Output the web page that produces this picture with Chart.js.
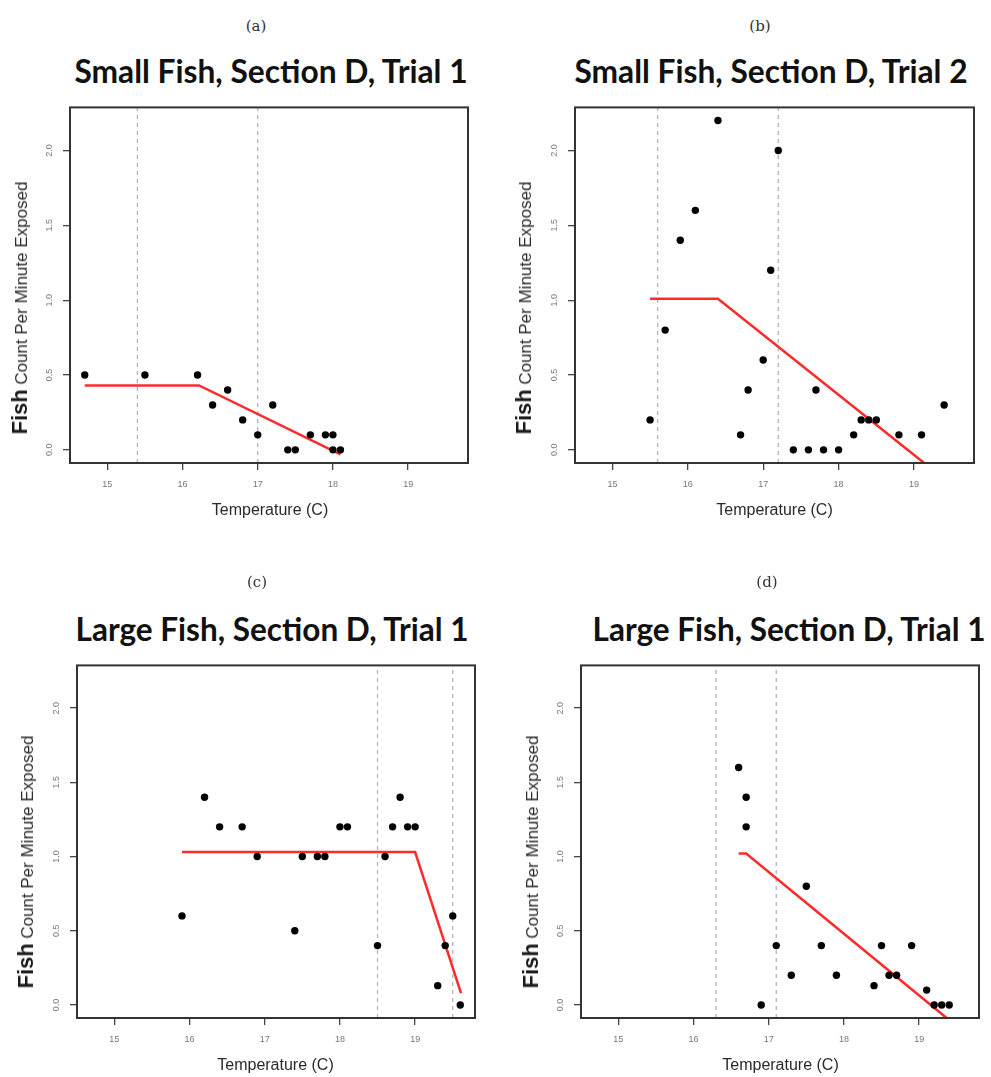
<!DOCTYPE html>
<html>
<head>
<meta charset="utf-8">
<script src="https://cdn.jsdelivr.net/npm/chart.js@4.4.0/dist/chart.umd.min.js"></script>
<style>
body{margin:0;background:#fff;width:991px;height:1077px;position:relative;overflow:hidden;font-family:"Liberation Sans",Arial,sans-serif}
canvas{position:absolute}
.lab{position:absolute;font-family:"DejaVu Serif","Liberation Serif",serif;font-size:15px;color:#333;transform:translate(-50%,-50%)}
.ttl{position:absolute;font-family:Lato,"Open Sans",sans-serif;font-weight:700;font-size:28px;line-height:1;color:#111;white-space:nowrap;transform:translate(-50%,-50%)}
.xt{position:absolute;font-size:16px;color:#2a2a2a;white-space:nowrap;transform:translate(-50%,-50%)}
.yt{position:absolute;white-space:nowrap;color:#2a2a2a;transform:translate(-50%,-50%) rotate(-90deg)}
.yt .big{font-size:22px;color:#1a1a1a;font-weight:bold}
.yt .small{font-size:17px}
</style>
</head>
<body>
<script>
// panel (a)
const aTemp  = [14.7, 15.5, 16.2, 16.4, 16.6, 16.8, 17.0, 17.2, 17.4, 17.5, 17.7, 17.9, 18.0, 18.0, 18.1];
const aCount = [0.5, 0.5, 0.5, 0.3, 0.4, 0.2, 0.1, 0.3, 0.0, 0.0, 0.1, 0.1, 0.1, 0.0, 0.0];
const aFitT  = [14.7, 16.22, 18.1];
const aFitC  = [0.43, 0.43, -0.03];
const aCuts  = [15.4, 17.0];

// panel (b)
const bTemp  = [15.5, 15.7, 15.9, 16.1, 16.4, 16.7, 16.8, 17.0, 17.1, 17.2, 17.4, 17.6, 17.7, 17.8, 18.0, 18.2, 18.3, 18.4, 18.5, 18.8, 19.1, 19.4];
const bCount = [0.2, 0.8, 1.4, 1.6, 2.2, 0.1, 0.4, 0.6, 1.2, 2.0, 0.0, 0.0, 0.4, 0.0, 0.0, 0.1, 0.2, 0.2, 0.2, 0.1, 0.1, 0.3];
const bFitT  = [15.5, 16.4, 19.14];
const bFitC  = [1.01, 1.01, -0.09];
const bCuts  = [15.6, 17.2];

// panel (c)
const cTemp  = [15.9, 16.2, 16.4, 16.7, 16.9, 17.4, 17.5, 17.7, 17.8, 18.0, 18.1, 18.5, 18.6, 18.7, 18.8, 18.9, 19.0, 19.3, 19.4, 19.5, 19.6];
const cCount = [0.6, 1.4, 1.2, 1.2, 1.0, 0.5, 1.0, 1.0, 1.0, 1.2, 1.2, 0.4, 1.0, 1.2, 1.4, 1.2, 1.2, 0.13, 0.4, 0.6, 0.0];
const cFitT  = [15.9, 19.0, 19.61];
const cFitC  = [1.03, 1.03, 0.08];
const cCuts  = [18.5, 19.5];

// panel (d)
const dTemp  = [16.6, 16.7, 16.7, 16.9, 17.1, 17.3, 17.5, 17.7, 17.9, 18.4, 18.5, 18.6, 18.7, 18.9, 19.1, 19.2, 19.3, 19.4];
const dCount = [1.6, 1.4, 1.2, 0.0, 0.4, 0.2, 0.8, 0.4, 0.2, 0.13, 0.4, 0.2, 0.2, 0.4, 0.1, 0.0, 0.0, 0.0];
const dFitT  = [16.6, 16.7, 19.37];
const dFitC  = [1.02, 1.02, -0.09];
const dCuts  = [16.3, 17.1];

const xTicks = [15, 16, 17, 18, 19];
const yTicks = [0, 0.5, 1.0, 1.5, 2.0];
const xMin = 14.504, xMax = 19.796;
const yMin = -0.088, yMax = 2.288;

const panelTags = ['(a)', '(b)', '(c)', '(d)'];
const panelTitles = ['Small Fish, Section D, Trial 1', 'Small Fish, Section D, Trial 2',
                     'Large Fish, Section D, Trial 1', 'Large Fish, Section D, Trial 1'];
const xTitle = 'Temperature (C)';

const panels = [
  {t: aTemp, c: aCount, ft: aFitT, fc: aFitC, cuts: aCuts, box: [70, 105, 468, 463],
   tag: [256, 26], ttl: [271, 72], xt: [270, 510], yt: [19.5, 308]},
  {t: bTemp, c: bCount, ft: bFitT, fc: bFitC, cuts: bCuts, box: [575, 105, 974, 463],
   tag: [760, 26], ttl: [771, 72], xt: [774.5, 510], yt: [523.5, 308]},
  {t: cTemp, c: cCount, ft: cFitT, fc: cFitC, cuts: cCuts, box: [77, 663, 475, 1018],
   tag: [257, 582], ttl: [272, 630], xt: [275.5, 1065], yt: [25.5, 862]},
  {t: dTemp, c: dCount, ft: dFitT, fc: dFitC, cuts: dCuts, box: [581, 663, 979, 1018],
   tag: [767, 582], ttl: [789, 630], xt: [780.5, 1065], yt: [530.5, 862]}
];

const boxPlugin = {
  id: 'box',
  afterDatasetsDraw(chart) {
    const a = chart.chartArea, ctx = chart.ctx;
    ctx.save();
    ctx.strokeStyle = '#333';
    ctx.lineWidth = 2;
    ctx.strokeRect(a.left, a.top, a.right - a.left, a.bottom - a.top);
    ctx.restore();
  }
};

function addText(cls, html, x, y) {
  const d = document.createElement('div');
  d.className = cls;
  d.innerHTML = html;
  d.style.left = x + 'px';
  d.style.top = y + 'px';
  document.body.appendChild(d);
  return d;
}

panels.forEach((p, i) => {
  const [L, T, R, B] = p.box;
  const cv = document.createElement('canvas');
  const w = (R - L) + 90, h = (B - T) + 62;
  cv.width = w; cv.height = h;
  cv.style.left = (L - 70) + 'px';
  cv.style.top = (T - 10) + 'px';
  cv.style.width = w + 'px'; cv.style.height = h + 'px';
  document.body.appendChild(cv);

  const datasets = [];
  p.cuts.forEach(v => {
    datasets.push({
      type: 'line', data: [{x: v, y: yMin}, {x: v, y: yMax}],
      borderColor: '#b5b5b5', borderWidth: 1.3, borderDash: [4, 4],
      pointRadius: 0, order: 3
    });
  });
  datasets.push({
    type: 'line', data: p.ft.map((v, k) => ({x: v, y: p.fc[k]})),
    borderColor: '#ff2b2b', borderWidth: 2.5, pointRadius: 0, order: 2
  });
  datasets.push({
    type: 'scatter', data: p.t.map((v, k) => ({x: v, y: p.c[k]})),
    backgroundColor: '#000', borderWidth: 0, pointRadius: 3.7, order: 1
  });

  new Chart(cv.getContext('2d'), {
    data: {datasets: datasets},
    options: {
      responsive: false,
      animation: false,
      devicePixelRatio: 1,
      layout: {padding: {top: 10, right: 20, left: 0, bottom: 0}},
      plugins: {legend: {display: false}, tooltip: {enabled: false}},
      scales: {
        x: {
          type: 'linear', min: xMin, max: xMax,
          afterBuildTicks: s => { s.ticks = xTicks.map(v => ({value: v})); },
          afterFit: s => { s.height = 52; },
          grid: {drawOnChartArea: false, drawTicks: true, tickLength: 7, tickColor: '#444', lineWidth: 1.3},
          border: {display: false},
          ticks: {color: '#777', font: {size: 9, family: 'Liberation Sans'}, padding: 9,
                  minRotation: 0, maxRotation: 0, callback: v => String(v)}
        },
        y: {
          type: 'linear', min: yMin, max: yMax,
          afterBuildTicks: s => { s.ticks = yTicks.map(v => ({value: v})); },
          afterFit: s => { s.width = 70; },
          grid: {drawOnChartArea: false, drawTicks: true, tickLength: 7, tickColor: '#444', lineWidth: 1.3},
          border: {display: false},
          ticks: {color: '#777', font: {size: 9, family: 'Liberation Sans'}, padding: 7,
                  minRotation: 90, maxRotation: 90, crossAlign: 'center',
                  callback: v => v.toFixed(1)}
        }
      }
    },
    plugins: [boxPlugin]
  });

  addText('lab', panelTags[i], p.tag[0], p.tag[1]);
  const tt = addText('ttl', panelTitles[i], p.ttl[0], p.ttl[1]);
  const wNow = tt.offsetWidth;
  tt.style.fontSize = (28 * 393 / wNow).toFixed(2) + 'px';
  addText('xt', xTitle, p.xt[0], p.xt[1]);
  addText('yt', '<span class="big">Fish</span> <span class="small">Count Per Minute Exposed</span>', p.yt[0], p.yt[1]);
});
</script>
</body>
</html>
